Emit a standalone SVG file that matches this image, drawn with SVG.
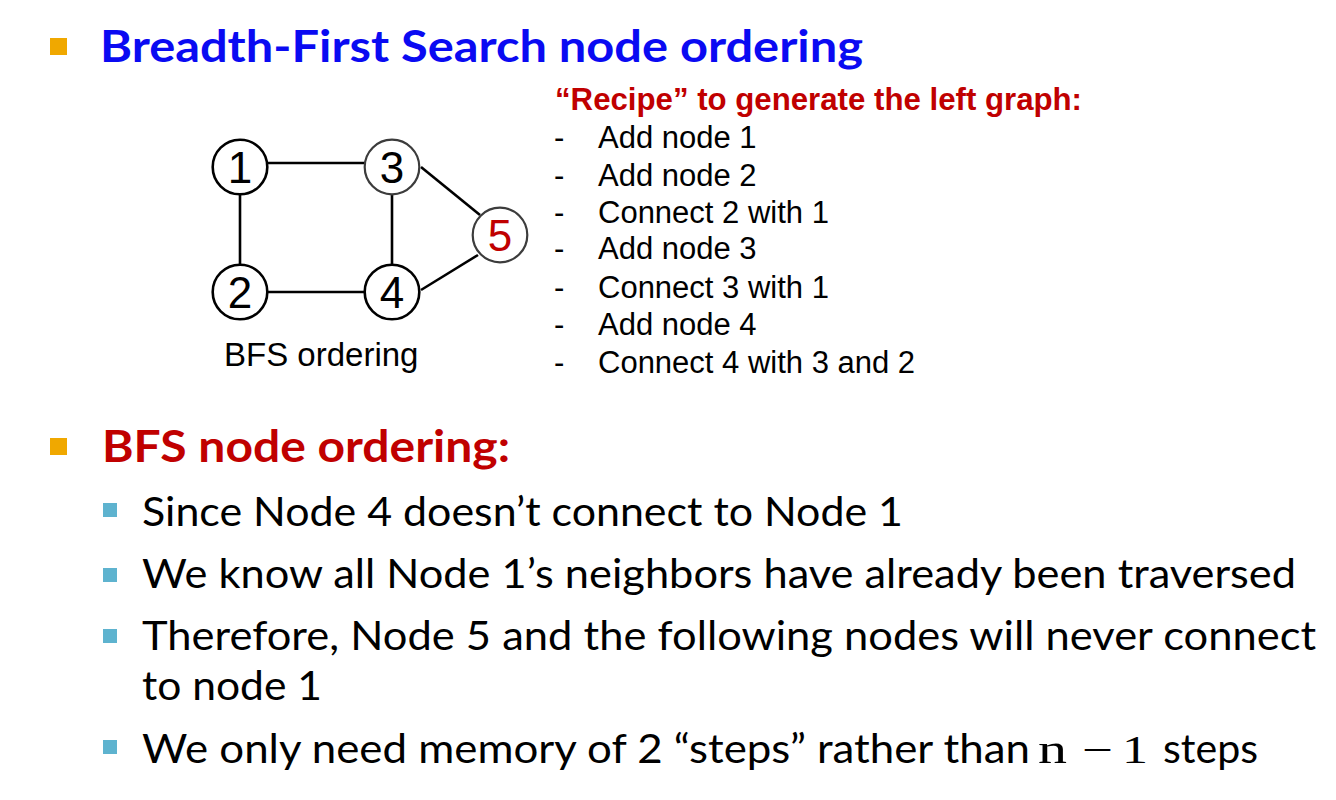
<svg xmlns="http://www.w3.org/2000/svg" width="1336" height="800" viewBox="0 0 1336 800">
<style>
.bg{fill:#fff}
.b1{fill:#F0A800}
.b2{fill:#5EB3CF}
.h1{font-family:Lato,"Open Sans","Liberation Sans",sans-serif;font-weight:bold;font-size:44px}
.body{font-family:Lato,"Open Sans","Liberation Sans",sans-serif;font-size:40px;fill:#000}
.math{font-family:"Liberation Serif","DejaVu Serif",serif;font-size:40px;fill:#000}
.arial{font-family:"Liberation Sans",Arial,sans-serif;fill:#000}
.recipe{font-family:"Liberation Sans",Arial,sans-serif;font-size:31px;fill:#000}
.node circle{fill:#fff;stroke:#000;stroke-width:2.6}
.node.soft circle{stroke:#3c3c3c;stroke-width:2.2}
.node text{font-family:"Liberation Sans",Arial,sans-serif;font-size:44px;text-anchor:middle;fill:#000}
.edge{stroke:#000;stroke-width:2.6;fill:none}
</style>
<rect class="bg" x="0" y="0" width="1336" height="800"/>

<!-- Title -->
<rect class="b1" x="50" y="38" width="17" height="17"/>
<text class="h1" x="100" y="62" fill="#0A0AF2" textLength="763" lengthAdjust="spacingAndGlyphs">Breadth-First Search node ordering</text>

<!-- Graph connectors -->
<g id="connectors">
<line class="edge" x1="267" y1="163" x2="365" y2="163"/>
<line class="edge" x1="240" y1="194" x2="240" y2="264"/>
<line class="edge" x1="267" y1="292" x2="365" y2="292"/>
<line class="edge" x1="392" y1="194" x2="392" y2="264"/>
<line class="edge" x1="421" y1="167" x2="480" y2="215"/>
<line class="edge" x1="421" y1="290" x2="478" y2="255"/>
</g>

<g id="node1" class="node"><circle cx="240" cy="167" r="27.3"/><text x="240" y="183">1</text></g>
<g id="node3" class="node soft"><circle cx="392" cy="167" r="27.3"/><text x="392" y="183">3</text></g>
<g id="node2" class="node"><circle cx="240" cy="292" r="27.3"/><text x="240" y="308">2</text></g>
<g id="node4" class="node"><circle cx="392" cy="292" r="27.3"/><text x="392" y="308">4</text></g>
<g id="node5" class="node soft"><circle cx="500" cy="235" r="27.3"/><text x="500" y="251" style="fill:#C00000">5</text></g>

<text class="arial" x="224" y="366" font-size="33">BFS ordering</text>

<!-- Recipe -->
<g id="recipe">
<text x="555" y="110" font-family="Liberation Sans, Arial, sans-serif" font-weight="bold" font-size="31" fill="#C00000" textLength="527" lengthAdjust="spacingAndGlyphs">“Recipe” to generate the left graph:</text>
<text class="recipe" x="554" y="148">-</text><text class="recipe" x="598" y="148">Add node 1</text>
<text class="recipe" x="554" y="186">-</text><text class="recipe" x="598" y="186">Add node 2</text>
<text class="recipe" x="554" y="223">-</text><text class="recipe" x="598" y="223">Connect 2 with 1</text>
<text class="recipe" x="554" y="259">-</text><text class="recipe" x="598" y="259">Add node 3</text>
<text class="recipe" x="554" y="298">-</text><text class="recipe" x="598" y="298">Connect 3 with 1</text>
<text class="recipe" x="554" y="335">-</text><text class="recipe" x="598" y="335">Add node 4</text>
<text class="recipe" x="554" y="373">-</text><text class="recipe" x="598" y="373">Connect 4 with 3 and 2</text>
</g>

<!-- Second heading -->
<rect class="b1" x="50" y="438" width="17" height="17"/>
<text class="h1" x="102" y="462" fill="#C00000" textLength="408" lengthAdjust="spacingAndGlyphs">BFS node ordering:</text>

<!-- Sub bullets -->
<rect class="b2" x="103" y="503" width="14" height="14"/>
<text class="body" x="142" y="526" textLength="761" lengthAdjust="spacingAndGlyphs">Since Node 4 doesn’t connect to Node 1</text>

<rect class="b2" x="103" y="568" width="14" height="14"/>
<text class="body" x="142" y="588" textLength="1154" lengthAdjust="spacingAndGlyphs">We know all Node 1’s neighbors have already been traversed</text>

<rect class="b2" x="103" y="629" width="14" height="14"/>
<text class="body" x="142" y="650" textLength="1174" lengthAdjust="spacingAndGlyphs">Therefore, Node 5 and the following nodes will never connect</text>
<text class="body" x="142" y="700" textLength="180" lengthAdjust="spacingAndGlyphs">to node 1</text>

<rect class="b2" x="103" y="740" width="14" height="14"/>
<text class="body" x="142" y="763" textLength="888" lengthAdjust="spacingAndGlyphs">We only need memory of 2 “steps” rather than</text>
<text class="math" x="1038" y="763" textLength="29" lengthAdjust="spacingAndGlyphs">n</text>
<text class="math" x="1082" y="763" textLength="31" lengthAdjust="spacingAndGlyphs">−</text>
<text class="math" x="1122" y="763" textLength="26" lengthAdjust="spacingAndGlyphs">1</text>
<text class="body" x="1163" y="763" textLength="95" lengthAdjust="spacingAndGlyphs">steps</text>
</svg>
